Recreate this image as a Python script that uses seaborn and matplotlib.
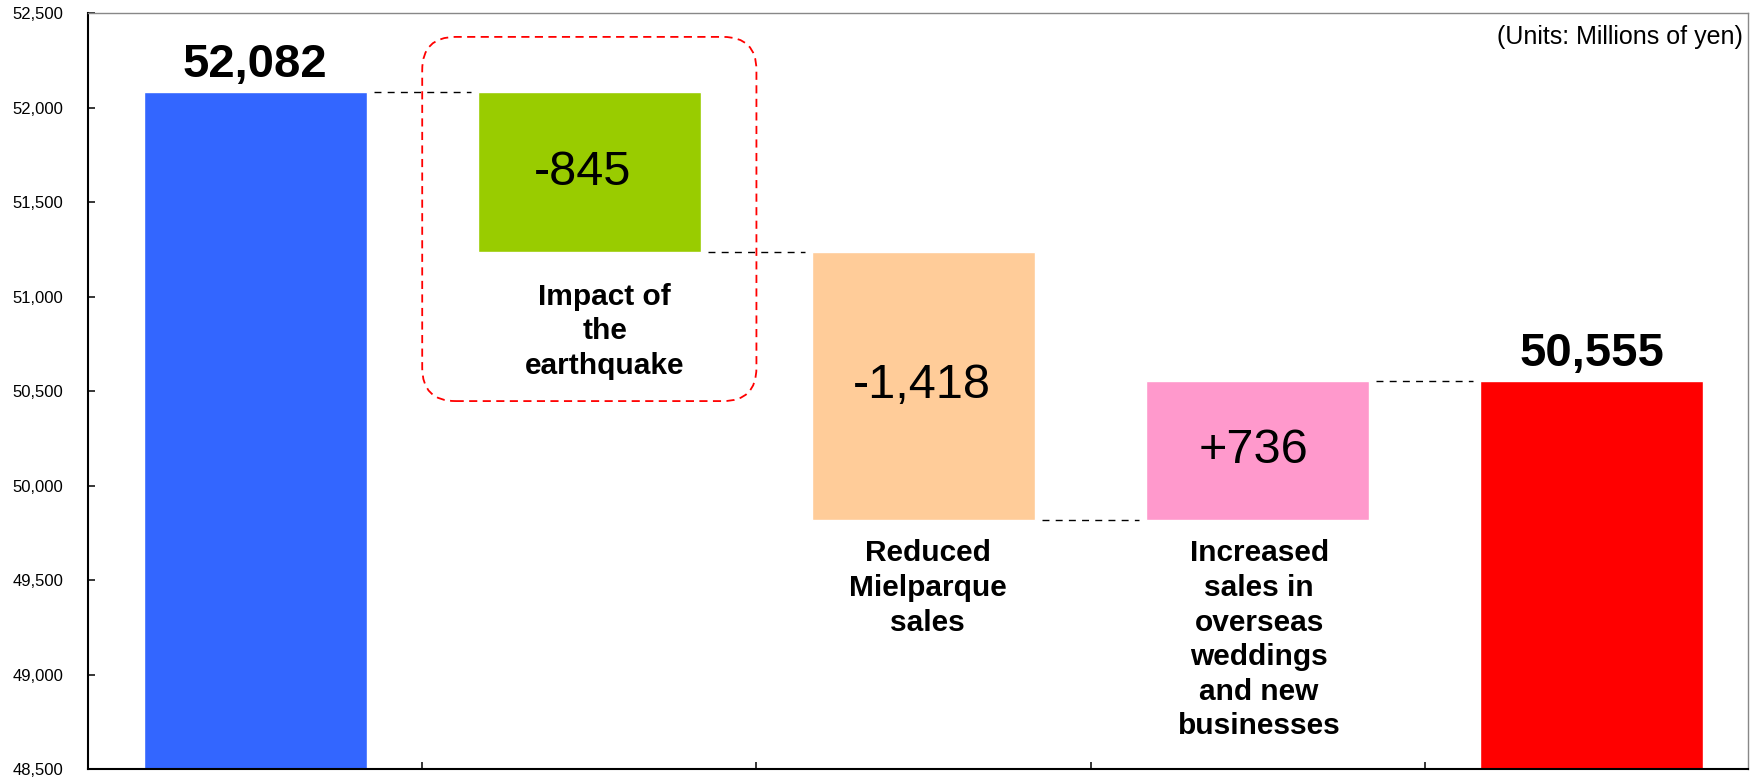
import matplotlib
matplotlib.use("Agg")
import matplotlib.pyplot as plt
from matplotlib.patches import FancyBboxPatch
import numpy as np
import pandas as pd
import seaborn as sns

# waterfall data (millions of yen)
steps = ["FY start", "Earthquake", "Mielparque", "Overseas", "FY end"]
changes = [52082, -845, -1418, 736, 50555]
is_total = [True, False, False, False, True]
value_labels = ["52,082", "-845", "-1,418", "+736", "50,555"]
cat_labels = ["", "Impact of\nthe\nearthquake", "Reduced\nMielparque\nsales",
              "Increased\nsales in\noverseas\nweddings\nand new\nbusinesses", ""]
label_gap = [0, 22, 14, 14, 0]
label_dx = [0, 11, 3, 1, 0]
value_dx = [0, -5, -1, -3, 0]
colors = ["#3366FF", "#99CC00", "#FFCC99", "#FF99CC", "#FF0000"]
y_ticks = [48500, 49000, 49500, 50000, 50500, 51000, 51500, 52000, 52500]

# running levels
tops, bottoms = [], []
level = 0
for c, tot in zip(changes, is_total):
    if tot:
        level = c
        bottoms.append(0)
        tops.append(c)
    else:
        new = level + c
        bottoms.append(min(level, new))
        tops.append(max(level, new))
        level = new

df = pd.DataFrame({"step": steps, "top": tops})

sns.set_style("white")
plt.rcParams["font.family"] = ["Liberation Sans", "DejaVu Sans"]
plt.rcParams["text.color"] = "black"
plt.rcParams["ytick.color"] = "black"
plt.rcParams["xtick.color"] = "black"

fig = plt.figure(figsize=(17.6, 7.79), dpi=100)
ax = fig.add_axes([0.05, 0.0128, 0.9432, 0.9699])

sns.barplot(data=df, x="step", y="top", hue="step", palette=colors,
            legend=False, width=0.667, saturation=1, ax=ax)
for p, b, t in zip(ax.patches, bottoms, tops):
    p.set_y(b)
    p.set_height(t - b)

ax.set_ylim(48500, 52500)
ax.set_xlim(-0.5, 4.467)

# connectors
levels = [tops[0], bottoms[1], bottoms[2], tops[3]]
for i, lv in enumerate(levels):
    ax.plot([i + 0.355, i + 0.645], [lv, lv], color="black", lw=1,
            linestyle=(0, (5, 4.5)))

# labels
for i in range(len(steps)):
    if is_total[i]:
        ax.annotate(value_labels[i], (i, tops[i]), xytext=(0, 11), textcoords="offset points",
                    ha="center", va="baseline", fontsize=34, fontweight="bold")
    else:
        ax.annotate(value_labels[i], (i, (tops[i] + bottoms[i]) / 2), xytext=(value_dx[i], 0),
                    textcoords="offset points", ha="center", va="center", fontsize=35)
        ax.annotate(cat_labels[i], (i, bottoms[i]), xytext=(label_dx[i], -label_gap[i]),
                    textcoords="offset points", ha="center", va="top",
                    fontsize=21.5, fontweight="bold", linespacing=1.3)

# highlight box around the earthquake step
box = FancyBboxPatch((0.5, 50448), 1.0, 52376 - 50448,
                     boxstyle="round,pad=0,rounding_size=0.1",
                     mutation_aspect=1760, fill=False, edgecolor="red",
                     lw=1.3, linestyle=(0, (4.5, 3)), clip_on=False, zorder=4)
ax.add_patch(box)

ax.text(0.997, 0.985, "(Units: Millions of yen)", transform=ax.transAxes,
        ha="right", va="top", fontsize=18)

ax.set_yticks(y_ticks)
ax.set_yticklabels([f"{v:,}" for v in y_ticks], fontsize=12)
ax.set_xticks([0.5, 1.5, 2.5, 3.5])
ax.set_xticklabels([])
ax.tick_params(axis="both", direction="in", length=5, width=1.1, color="black",
               left=True, bottom=True)
ax.tick_params(axis="y", pad=18)
ax.set_xlabel("")
ax.set_ylabel("")

for s in ["left", "bottom"]:
    ax.spines[s].set_color("black")
    ax.spines[s].set_linewidth(1.5)
for s in ["top", "right"]:
    ax.spines[s].set_color("#888888")
    ax.spines[s].set_linewidth(1.0)

fig.savefig("out.png", dpi=100)
